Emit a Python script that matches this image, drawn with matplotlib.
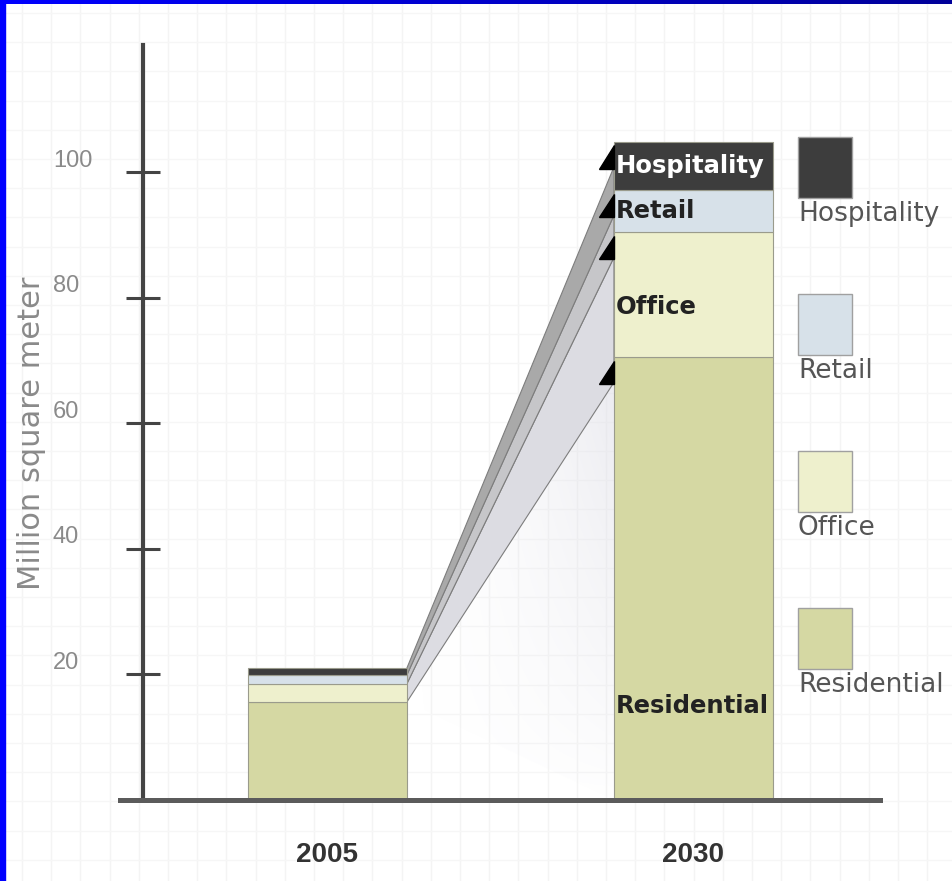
import numpy as np
import matplotlib.pyplot as plt
from matplotlib.patches import Rectangle, Polygon
from matplotlib.transforms import blended_transform_factory

years = ["2005", "2030"]
categories = ["Residential", "Office", "Retail", "Hospitality"]
area_2005 = [15.6, 2.9, 1.4, 1.1]
area_2030 = [70.5, 19.9, 6.7, 7.7]
yticks = [20, 40, 60, 80, 100]

colors = ["#d5d8a3", "#eef0cd", "#d7e1e9", "#3d3d3d"]
band_colors = ["#dcdce2", "#c6c6c9", "#a9a9a9"]
label_colors = ["#222222", "#222222", "#222222", "#ffffff"]
label_y = [15, 78.5, 93.7, 101]

arial = ["Liberation Sans", "DejaVu Sans"]

W, H = 953, 881
fig = plt.figure(figsize=(W / 100, H / 100), dpi=100)
fig.patch.set_facecolor("white")

# faint grid paper in the background
bg = fig.add_axes([0, 0, 1, 1], zorder=0)
bg.set_xlim(0, W)
bg.set_ylim(H, 0)
for gx in np.arange(22, W, 29.2):
    bg.axvline(gx, color="#f4f4f4", lw=1)
for gy in np.arange(13, H, 29.2):
    bg.axhline(gy, color="#f6f6f6", lw=1)
bg.axis("off")

ax = fig.add_axes([120 / W, 81 / H, 760 / W, 755 / H], zorder=1)
ax.patch.set_alpha(0)
ax.set_xlim(-0.567, 1.51)
ax.set_ylim(0, 120.2)

width = 0.434
x = np.arange(len(years))
tops05 = np.cumsum(area_2005)
tops30 = np.cumsum(area_2030)
bot05 = tops05 - np.array(area_2005)
bot30 = tops30 - np.array(area_2030)

for i, cat in enumerate(categories):
    ax.bar(x, [area_2005[i], area_2030[i]], width=width,
           bottom=[bot05[i], bot30[i]], color=colors[i],
           edgecolor="#9a9b8c", lw=0.8, zorder=3)

# connectors between the two bars
x0 = x[0] + width / 2
x1 = x[1] - width / 2
end30 = tops30 - 4.0

# soft shadow below the residential connector
shade = Polygon([[x0, tops05[0]], [x1, end30[0]], [x1, 0]], closed=True,
                facecolor="none", edgecolor="none")
ax.add_patch(shade)
gx, gy = np.meshgrid(np.linspace(0, 1, 200), np.linspace(0, 1, 200))
rgba = np.zeros((200, 200, 4))
rgba[..., :3] = np.array([0.88, 0.88, 0.91])
rgba[..., 3] = np.clip(gx ** 1.5 * gy ** 0.8, 0, 1) * 0.6
im = ax.imshow(rgba, extent=[x0, x1, 0, end30[0]], origin="lower",
               aspect="auto", zorder=1)
im.set_clip_path(shade)

for i in range(3):
    ax.fill([x0, x1, x1, x0],
            [tops05[i], end30[i], end30[i + 1], tops05[i + 1]],
            facecolor=band_colors[i], edgecolor="#7d7d7d", lw=0.8, zorder=2)

for i in range(4):
    ax.fill([x1, x1, x1 - 0.04],
            [tops30[i] - 0.6, end30[i] - 0.3, end30[i] - 0.3],
            color="black", zorder=4)

for i, cat in enumerate(categories):
    ax.text(x1 + 0.006, label_y[i], cat, ha="left", va="center",
            fontsize=17.5, fontweight="bold", color=label_colors[i], zorder=5)

# axes styling
for s in ["top", "right"]:
    ax.spines[s].set_visible(False)
ax.spines["left"].set_position(("data", -0.504))
ax.spines["left"].set_linewidth(3)
ax.spines["left"].set_color("#444444")
ax.spines["bottom"].set_linewidth(3.6)
ax.spines["bottom"].set_color("#5b5b5b")
ax.spines["bottom"].set_zorder(6)

ax.set_yticks(yticks)
ax.tick_params(axis="y", direction="inout", length=25, width=2.2,
               color="#444444", labelleft=False)
ax.set_xticks(x, years)
ax.tick_params(axis="x", length=0, pad=30, labelcolor="#333333")
for lbl in ax.get_xticklabels():
    lbl.set_fontweight("bold")
    lbl.set_fontfamily(arial)
    lbl.set_fontsize(20)

trans = blended_transform_factory(fig.transFigure, ax.transData)
for v in yticks:
    ax.text(53 / W, v + 1.8, str(v), transform=trans, ha="left", va="center",
            fontsize=17, color="#8a8a8a", family=arial)

fig.text(32 / W, 1 - 433 / H, "Million square meter", rotation=90,
         ha="center", va="center", fontsize=22, color="#8a8a8a")

# legend: squares with labels underneath
lg = fig.add_axes([790 / W, (H - 720) / H, 163 / W, 590 / H], zorder=2)
lg.set_xlim(790, 953)
lg.set_ylim(720, 130)
lg.axis("off")
for k, i in enumerate(range(len(categories) - 1, -1, -1)):
    top = 137 + 157 * k
    lg.add_patch(Rectangle((798, top), 54, 61, facecolor=colors[i],
                           edgecolor="#a0a0a0", lw=1))
    lg.text(798, top + 77, categories[i], ha="left", va="center",
            fontsize=19, color="#555555")

# blue frame on left and top
fig.patches.append(Rectangle((0, 0), 5 / W, 1, transform=fig.transFigure,
                             color="#0000ff", zorder=10))
tb = fig.add_axes([0, 1 - 4 / H, 1, 4 / H], zorder=10)
grad = np.zeros((1, 256, 3))
grad[0, :, 2] = np.linspace(1.0, 0.6, 256)
tb.imshow(grad, aspect="auto", extent=[0, 1, 0, 1])
tb.axis("off")

fig.savefig("out.png", dpi=100)
